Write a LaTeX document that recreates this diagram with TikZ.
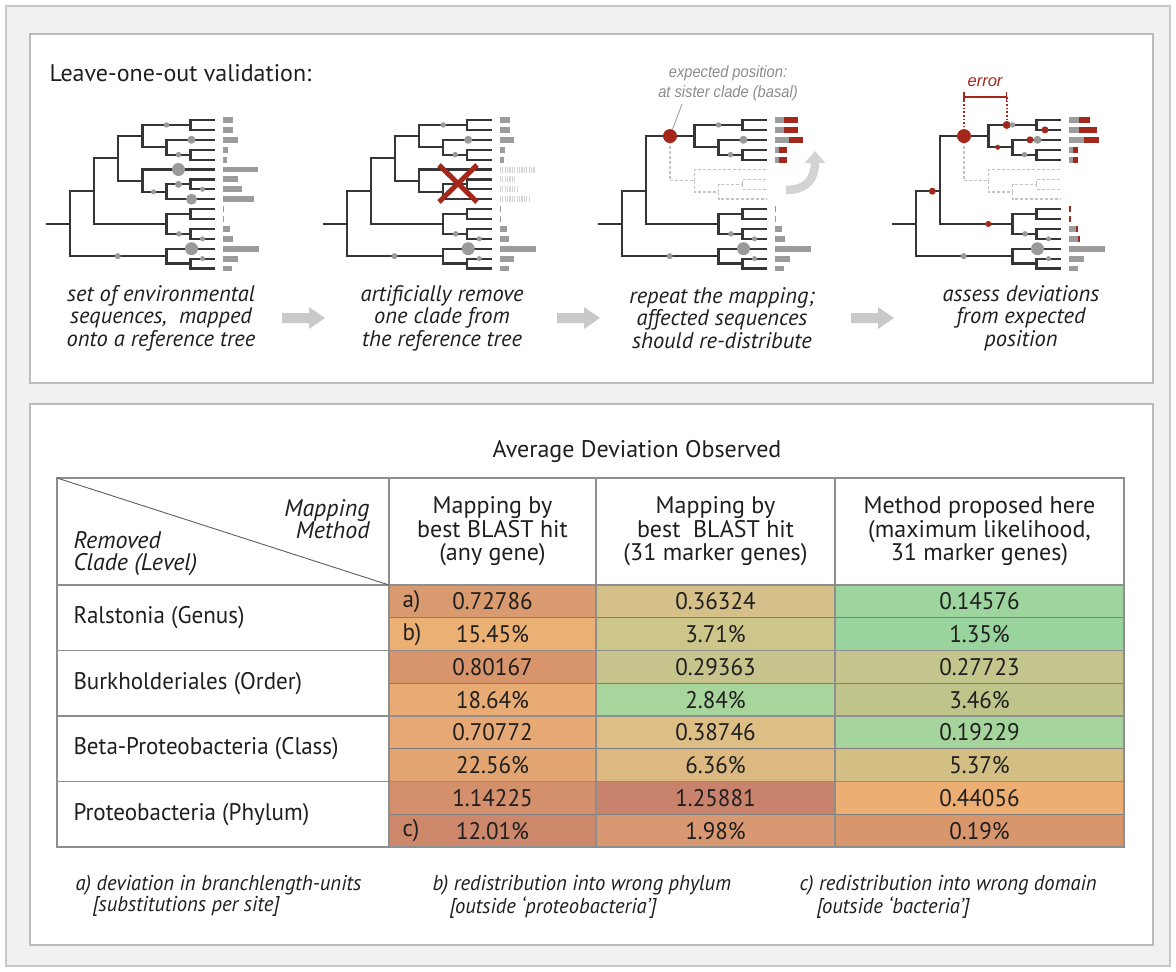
\documentclass[tikz,border=0pt]{standalone}
\usepackage{fontspec}
\setmainfont{PT Sans}
\newfontfamily\condfont[FakeStretch=0.96]{PT Sans}
\newfontfamily\helvfont{Liberation Sans}
\newfontfamily\helvnarrow[FakeStretch=0.9]{Liberation Sans}
\usetikzlibrary{arrows.meta}

% palette
\definecolor{branch}{HTML}{363636}
\definecolor{dotgray}{HTML}{9A9A9A}
\definecolor{bargray}{HTML}{9C9C9C}
\definecolor{hatchgray}{HTML}{D4D4D4}
\definecolor{mapred}{HTML}{A3271B}
\definecolor{ghost}{HTML}{C4C4C4}
\definecolor{frameline}{HTML}{C8C8C8}
\definecolor{panelline}{HTML}{BBBBBB}
\definecolor{backfill}{HTML}{F1F1F1}
\definecolor{flowgray}{HTML}{C9C9C9}
\definecolor{curvegray}{HTML}{D3D3D3}
\definecolor{notegray}{HTML}{8C8C8C}
\definecolor{gridline}{HTML}{7E7E7E}
\definecolor{tableframe}{HTML}{8E8E8E}
\definecolor{ink}{HTML}{1F1F1F}
% cell shading: cell<row letter><column letter>
\definecolor{cellAb}{HTML}{D89A6E}\definecolor{cellAc}{HTML}{D6C08A}\definecolor{cellAd}{HTML}{9ED59F}
\definecolor{cellBb}{HTML}{EBB073}\definecolor{cellBc}{HTML}{CCC68A}\definecolor{cellBd}{HTML}{99D39E}
\definecolor{cellCb}{HTML}{D8946B}\definecolor{cellCc}{HTML}{C6C38C}\definecolor{cellCd}{HTML}{C4C48D}
\definecolor{cellDb}{HTML}{E8AB73}\definecolor{cellDc}{HTML}{A8D59C}\definecolor{cellDd}{HTML}{BFC48B}
\definecolor{cellEb}{HTML}{E6A874}\definecolor{cellEc}{HTML}{DDBE85}\definecolor{cellEd}{HTML}{A5D49D}
\definecolor{cellFb}{HTML}{E2A572}\definecolor{cellFc}{HTML}{DBB981}\definecolor{cellFd}{HTML}{D3BF83}
\definecolor{cellGb}{HTML}{D48F6C}\definecolor{cellGc}{HTML}{C9826B}\definecolor{cellGd}{HTML}{ECAE72}
\definecolor{cellHb}{HTML}{CD876A}\definecolor{cellHc}{HTML}{D79872}\definecolor{cellHd}{HTML}{D8966D}

\tikzset{
  edge/.style={draw=branch, line width=2.2pt},
  ghostedge/.style={draw=ghost, line width=1.6pt, dash pattern=on 3pt off 2pt},
  gdot/.style={circle, fill=dotgray, inner sep=0pt, minimum size=#1},
  rdot/.style={circle, fill=mapred, inner sep=0pt, minimum size=#1},
  caption/.style={align=center, text=ink, font=\itshape\fontsize{22.5}{22.5}\selectfont},
  headtext/.style={align=center, text=ink, font=\fontsize{24}{23.5}\selectfont},
  headital/.style={text=ink, font=\itshape\fontsize{24}{22}\selectfont},
  valtext/.style={text=ink, font=\condfont\fontsize{24}{24}\selectfont},
  rowlabel/.style={anchor=west, text=ink, font=\condfont\fontsize{24}{24}\selectfont},
  footnote/.style={anchor=north west, align=left, text=ink, font=\condfont\itshape\fontsize{21.5}{21}\selectfont},
}

% tree geometry: x in px, y in leaf rows
\newcommand\treecoords{%
  \coordinate (S) at (46,10.47);
  \coordinate (R) at (70,10.47);
  \coordinate (A) at (94,7.19);
  \coordinate (B) at (166.5,13.75);
  \coordinate (A1) at (118,3.875);
  \coordinate (D) at (166.5,10.5);
  \coordinate (G) at (142.5,1.625);
  \coordinate (H) at (142.5,6.125);
  \coordinate (I) at (190.5,0.5);
  \coordinate (J) at (166.5,2.75);
  \coordinate (K) at (190.5,3.5);
  \coordinate (M) at (166.5,7.25);
  \coordinate (N) at (190.5,6.5);
  \coordinate (E) at (190.5,9.5);
  \coordinate (F) at (190.5,11.5);
  \coordinate (C) at (190.5,14.5);
  \coordinate (P) at (118,1.625);
  \foreach \i in {0,...,15} {\coordinate (L\i) at (215,\i);}
}
% branches shared by every version of the tree
\newcommand\commonedges{%
  \draw[edge] (S) -- (R) (R) |- (A) (R) |- (B)
    (G) |- (I) (G) |- (J) (I) |- (L0) (I) |- (L1)
    (J) |- (L2) (J) |- (K) (K) |- (L3) (K) |- (L4)
    (A) |- (D) (D) |- (E) (D) |- (F)
    (E) |- (L9) (E) |- (L10) (F) |- (L11) (F) |- (L12)
    (B) |- (L13) (B) |- (C) (C) |- (L14) (C) |- (L15);
}
\newcommand\cladeedges[1]{%
  \draw[#1] (H) |- (L5) (H) |- (M) (M) |- (N) (M) |- (L8) (N) |- (L6) (N) |- (L7);
}
\newcommand\commondots{%
  \node[gdot=5.5pt] (dI) at (166.5,0.5) {};
  \node[gdot=8pt] (d2) at (191.5,2) {};
  \node[gdot=5.5pt] (dK) at (178.5,3.5) {};
  \node[gdot=5.5pt] (dF) at (179,11.5) {};
  \node[gdot=5pt] (d12) at (202.5,12) {};
  \node[gdot=6pt] (dB) at (117.7,13.75) {};
  \node[gdot=13pt] (d13) at (191.5,13) {};
  \node[gdot=5pt] (d14) at (202.5,14) {};
}
% abundance bars beside the leaves
\newcommand\leafbar[3][bargray]{\fill[#1] (223,#2-0.3) rectangle ++(#3,0.6);}
\newcommand\splitbar[3]{\fill[bargray] (223,#1-0.3) rectangle ++(#2,0.6);
  \fill[mapred] (223+#2,#1-0.3) rectangle ++(#3,0.6);}
\newcommand\hatchbar[2]{\draw[hatchgray, line width=6pt, dash pattern=on 1.2pt off 1.2pt] (223,#1) -- ++(#2,0);}
\newcommand\lowerbars{%
  \leafbar{9}{1.2}\leafbar{10}{1.2}\leafbar{11}{7.3}\leafbar{12}{9.7}
  \leafbar{13}{36}\leafbar{14}{14.7}\leafbar{15}{9.3}}
\newcommand\upperbars{%
  \leafbar{0}{10}\leafbar{1}{10}\leafbar{2}{14.7}\leafbar{3}{5.3}\leafbar{4}{4}}

% wide grey arrow between the steps
\newcommand\flowarrow[2]{%
  \fill[flowgray] (#1,#2-5) -- (#1+27,#2-5) -- (#1+27,#2-11) -- (#1+43,#2)
    -- (#1+27,#2+11) -- (#1+27,#2+5) -- (#1,#2+5) -- cycle;}

% one shaded value cell: row, column, colour, text
\newcommand\datacell[4]{%
  \pgfmathsetmacro\xl{{0,0,389,596,835}[#2]}%
  \pgfmathsetmacro\xr{{0,0,596,835,1124}[#2]}%
  \pgfmathsetmacro\yt{585+32.75*(#1-1)}%
  \pgfmathsetmacro\yb{585+32.75*#1}%
  \fill[#3] (\xl,\yt) rectangle (\xr,\yb);
  \node[valtext] (val#1x#2) at ({(\xl+\xr)/2},{(\yt+\yb)/2}) {#4};
}

\begin{document}
\begin{tikzpicture}[x=1pt, y=-1pt, line join=miter]
\useasboundingbox (0,0) rectangle (1176,972);
\fill[white] (0,0) rectangle (1176,972);
\draw[frameline, fill=backfill, line width=1.5pt] (6,6) rectangle (1170,966);
\draw[panelline, fill=white, line width=2pt] (30,34) rectangle (1153,383);
\draw[panelline, fill=white, line width=2pt] (30,404) rectangle (1153,945);

\node[anchor=west, text=ink, font=\fontsize{24}{28}\selectfont] (title) at (46,73) {Leave-one-out validation:};

% ---- tree 1: environmental reads placed on the full tree
\begin{scope}[x=1pt, y=-9.9pt, yshift=-120pt, name prefix=t1-]
  \treecoords
  \commonedges
  \draw[edge] (A) |- (A1) (A1) |- (G) (A1) |- (H);
  \cladeedges{edge}
  \commondots
  \node[gdot=13pt] (d5) at (178.5,5) {};
  \node[gdot=7pt] (dN) at (178.5,6.5) {};
  \node[gdot=5pt] (d7) at (202.5,7) {};
  \node[gdot=5pt] (dM) at (153.5,7.25) {};
  \node[gdot=11pt] (d8) at (191.5,8) {};
  \upperbars
  \leafbar{5}{35.3}\leafbar{6}{14.7}\leafbar{7}{19}\leafbar{8}{30.7}
  \lowerbars
\end{scope}

% ---- tree 2: one clade taken out
\begin{scope}[x=1pt, y=-9.9pt, xshift=276.7pt, yshift=-120pt, name prefix=t2-]
  \treecoords
  \commonedges
  \draw[edge] (A) |- (A1) (A1) |- (G) (A1) |- (H);
  \cladeedges{edge}
  \commondots
  \upperbars
  \hatchbar{5}{35.3}\hatchbar{6}{14.7}\hatchbar{7}{19}\hatchbar{8}{30.7}
  \lowerbars
\end{scope}
\draw[mapred, line width=5pt] (439,165) -- (477,202) (439,202) -- (477,165);

% ---- tree 3: re-mapped reads move to the sister clade
\begin{scope}[x=1pt, y=-9.9pt, xshift=552pt, yshift=-120pt, name prefix=t3-]
  \treecoords
  \commonedges
  \draw[edge] (A) |- (G);
  \draw[ghostedge] (P) |- (H);
  \cladeedges{ghostedge}
  \commondots
  \node[rdot=14pt] (ep) at (P) {};
  \splitbar{0}{9}{14}\splitbar{1}{9}{14}\splitbar{2}{14}{14.3}
  \splitbar{3}{4}{8.3}\splitbar{4}{4}{8.3}
  \lowerbars
\end{scope}
\draw[curvegray, line width=8.5pt, -{Triangle[width=20pt,length=12pt]}]
  (786,190) .. controls (809,190) and (815,176) .. (815,151);
\node[align=center, text=notegray, font=\helvnarrow\itshape\fontsize{16.3}{20}\selectfont] (expect) at (728,83)
  {expected position:\\at sister clade (basal)};
\coordinate (expectfoot) at (682,104);
\draw[notegray, line width=0.7pt] (expectfoot) -- (t3-ep);

% ---- tree 4: deviations from the expected position
\begin{scope}[x=1pt, y=-9.9pt, xshift=846pt, yshift=-120pt, name prefix=t4-]
  \treecoords
  \commonedges
  \draw[edge] (A) |- (G);
  \draw[ghostedge] (P) |- (H);
  \cladeedges{ghostedge}
  \node[rdot=8pt] (rI) at (160.7,0.5) {};
  \node[rdot=7pt] (r1) at (199,1) {};
  \node[rdot=5pt] (rJ) at (151.7,2.75) {};
  \node[rdot=7pt] (r2) at (184,2) {};
  \node[rdot=7pt] (rA) at (86.3,7.19) {};
  \node[rdot=6pt] (rD) at (142.3,10.5) {};
  \commondots
  \node[rdot=14pt] (ep) at (P) {};
  \splitbar{0}{9.7}{11}\splitbar{1}{9.7}{18.7}\splitbar{2}{14.7}{15.3}
  \splitbar{3}{4}{5}\splitbar{4}{4}{5}
  \leafbar[mapred]{9}{2}\leafbar[mapred]{10}{2}
  \splitbar{11}{7.3}{2}\splitbar{12}{9}{2.3}
  \leafbar{13}{36}\leafbar{14}{14.7}\leafbar{15}{9.3}
\end{scope}
\coordinate (errL) at (964,97);
\coordinate (errR) at (1006.7,97);
\draw[mapred, line width=1.5pt] (errL) -- (errR) (964,92) -- (964,102) (1006.7,92) -- (1006.7,102);
\draw[mapred, line width=1.6pt, dotted] (errL) -- (t4-ep) (errR) -- (t4-rI);
\node[text=mapred, font=\helvfont\itshape\fontsize{16.5}{18}\selectfont] (errlabel) at (985,82) {error};

% ---- step captions and arrows
\node[caption] (cap1) at (161,318) {set of environmental\\sequences,\ \ mapped\\onto a reference tree};
\node[caption] (cap2) at (442,318) {artificially remove\\one clade from\\the reference tree};
\node[caption] (cap3) at (722,318) {repeat the mapping;\\affected sequences\\should re-distribute};
\node[caption] (cap4) at (1021,318) {assess deviations\\from expected\\position};
\flowarrow{282}{318}
\flowarrow{557}{318}
\flowarrow{851}{318}

% ---- results table
\node[text=ink, font=\fontsize{24}{26}\selectfont] (avgtitle) at (637,451) {Average Deviation Observed};

\datacell{1}{2}{cellAb}{0.72786}\datacell{1}{3}{cellAc}{0.36324}\datacell{1}{4}{cellAd}{0.14576}
\datacell{2}{2}{cellBb}{15.45\%}\datacell{2}{3}{cellBc}{3.71\%}\datacell{2}{4}{cellBd}{1.35\%}
\datacell{3}{2}{cellCb}{0.80167}\datacell{3}{3}{cellCc}{0.29363}\datacell{3}{4}{cellCd}{0.27723}
\datacell{4}{2}{cellDb}{18.64\%}\datacell{4}{3}{cellDc}{2.84\%}\datacell{4}{4}{cellDd}{3.46\%}
\datacell{5}{2}{cellEb}{0.70772}\datacell{5}{3}{cellEc}{0.38746}\datacell{5}{4}{cellEd}{0.19229}
\datacell{6}{2}{cellFb}{22.56\%}\datacell{6}{3}{cellFc}{6.36\%}\datacell{6}{4}{cellFd}{5.37\%}
\datacell{7}{2}{cellGb}{1.14225}\datacell{7}{3}{cellGc}{1.25881}\datacell{7}{4}{cellGd}{0.44056}
\datacell{8}{2}{cellHb}{12.01\%}\datacell{8}{3}{cellHc}{1.98\%}\datacell{8}{4}{cellHd}{0.19\%}

\node[valtext, anchor=west] (marka) at (399,601.4) {a)};
\node[valtext, anchor=west] (markb) at (399,634.1) {b)};
\node[valtext, anchor=west] (markc) at (399,830.9) {c)};

% grid
\draw[gridline, line width=0.9pt]
  (389,617.75) -- (1124,617.75) (389,683.25) -- (1124,683.25)
  (389,748.75) -- (1124,748.75) (389,814.25) -- (1124,814.25);
\draw[tableframe, line width=1.3pt]
  (57,585) -- (1124,585) (57,650.5) -- (1124,650.5)
  (57,716) -- (1124,716) (57,781.5) -- (1124,781.5);
\draw[tableframe, line width=1.1pt] (389,478) -- (389,847) (596,478) -- (596,847) (835,478) -- (835,847);
\draw[tableframe, line width=1.6pt] (57,478) rectangle (1124,847);
\draw[branch!80, line width=0.9pt] (57,478) -- (389,585);

% header
\node[headital, anchor=east, align=right] (hmethod) at (373,519) {Mapping\\Method};
\node[headital, anchor=west, align=left] (hclade) at (70,554) {Removed\\Clade (Level)};
\node[headtext] (hcol2) at (492.5,531.5) {Mapping by\\best BLAST hit\\(any gene)};
\node[headtext] (hcol3) at (715.5,531.5) {Mapping by\\best\ \ BLAST hit\\(31 marker genes)};
\node[headtext] (hcol4) at (979.5,531.5) {Method proposed here\\(maximum likelihood,\\31 marker genes)};

% row labels
\node[rowlabel] (rowA) at (70,617.75) {Ralstonia (Genus)};
\node[rowlabel] (rowB) at (70,683.25) {Burkholderiales (Order)};
\node[rowlabel] (rowC) at (70,748.75) {Beta-Proteobacteria (Class)};
\node[rowlabel] (rowD) at (70,814.25) {Proteobacteria (Phylum)};

% footnotes
\node[footnote] (fna) at (72,872) {a) deviation in branchlength-units\\\hspace*{17pt}[substitutions per site]};
\node[footnote] (fnb) at (429,872) {b) redistribution into wrong phylum\\\hspace*{17pt}[outside ‘proteobacteria’]};
\node[footnote] (fnc) at (796,872) {c) redistribution into wrong domain\\\hspace*{17pt}[outside ‘bacteria’]};
\end{tikzpicture}
\end{document}
